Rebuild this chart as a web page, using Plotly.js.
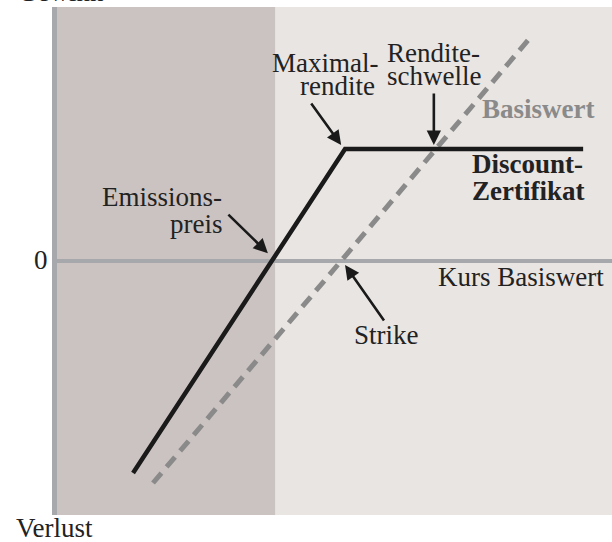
<!DOCTYPE html>
<html>
<head>
<meta charset="utf-8">
<script src="https://cdn.plot.ly/plotly-3.0.1.min.js"></script>
<style>html,body{margin:0;padding:0;background:#fff;}#chart{width:612px;height:542px;}</style>
</head>
<body>
<div id="chart"></div>
<script>
// Discount-Zertifikat payoff (x: Kurs Basiswert, y: Gewinn/Verlust)
const discountX = [13.7, 51.9, 94.8];
const discountY = [-83.5, 44.1, 44.1];
// Basiswert (direct investment)
const basisX = [17.3, 84.9];
const basisY = [-87.4, 87.0];
// shaded zone below the Emissionspreis
const zoneX = [0, 39.3];
// key points
const emissionspreis = 38.0;
const strike = 51.9;
const maxRendite = [51.2, 45.7];
const renditeschwelle = [67.9, 45.7];

const FONT = 'Liberation Serif, Times New Roman, serif';
const TXT = '#222222';
const FS = 27;

const W = 555, H = 508, L = 57, T = 7;
function px(x){ return (x - L) / W; }
function py(y){ return (T + H - y) / H; }

function label(text, x, y, anchor, opts){
  opts = opts || {};
  return {text: text, xref:'paper', yref:'paper', x: px(x), y: py(y),
    xanchor: anchor, yanchor:'middle', showarrow:false, borderpad:0,
    font:{family: FONT, size: FS, color: opts.color || TXT, weight: opts.bold ? 'bold' : 'normal'}};
}
function arrow(x, y, ax, ay){
  return {text:'', x:x, y:y, xref:'x', yref:'y', ax:ax, ay:ay, showarrow:true,
    arrowhead:2, arrowsize:1.1, arrowwidth:2.6, arrowcolor:'#1a1a1a', standoff:0};
}

const traces = [
  {x: basisX, y: basisY, mode:'lines', line:{color:'#8a8a8a', width:5, dash:'13px,8px'}, hoverinfo:'skip', showlegend:false},
  {x: discountX, y: discountY, mode:'lines', line:{color:'#1a1a1a', width:4.5}, hoverinfo:'skip', showlegend:false}
];

const layout = {
  width:612, height:542,
  margin:{l:L, r:0, t:T, b:542-T-H, pad:0},
  paper_bgcolor:'#ffffff',
  plot_bgcolor:'#e9e5e2',
  xaxis:{range:[0,100], showgrid:false, zeroline:false, showticklabels:false, showline:false, ticks:'', fixedrange:true},
  yaxis:{range:[-100,100], showgrid:false, zeroline:true, zerolinecolor:'#a6a8ac', zerolinewidth:4,
         showline:true, linecolor:'#a6a8ac', linewidth:5, showticklabels:false, ticks:'', fixedrange:true},
  shapes:[
    {type:'rect', xref:'x', yref:'paper', x0:zoneX[0], x1:zoneX[1], y0:0, y1:1, fillcolor:'#cbc3c1', line:{width:0}, layer:'below'}
  ],
  annotations:[
    label('Gewinn', 17, -8, 'left'),
    label('Verlust', 15, 528, 'left'),
    label('0', 49, 260, 'right'),
    label('Emissions-', 223, 197, 'right'),
    label('preis', 223, 224, 'right'),
    label('Maximal-', 379, 63, 'right'),
    label('rendite', 376, 86, 'right'),
    label('Rendite-', 386, 53, 'left'),
    label('schwelle', 386, 76, 'left'),
    label('Basiswert', 481, 109, 'left', {color:'#8a8a8a', bold:true}),
    label('Discount-', 584, 164, 'right', {bold:true}),
    label('Zertifikat', 585, 191, 'right', {bold:true}),
    label('Kurs Basiswert', 437, 277, 'left'),
    label('Strike', 353, 335, 'left'),
    arrow(maxRendite[0], maxRendite[1], -31, -43),
    arrow(renditeschwelle[0], renditeschwelle[1], 0, -53),
    arrow(emissionspreis, 3.1, -41, -40),
    arrow(strike, -1.6, 40, 57)
  ]
};

Plotly.newPlot('chart', traces, layout, {displayModeBar:false, staticPlot:true});
</script>
</body>
</html>
